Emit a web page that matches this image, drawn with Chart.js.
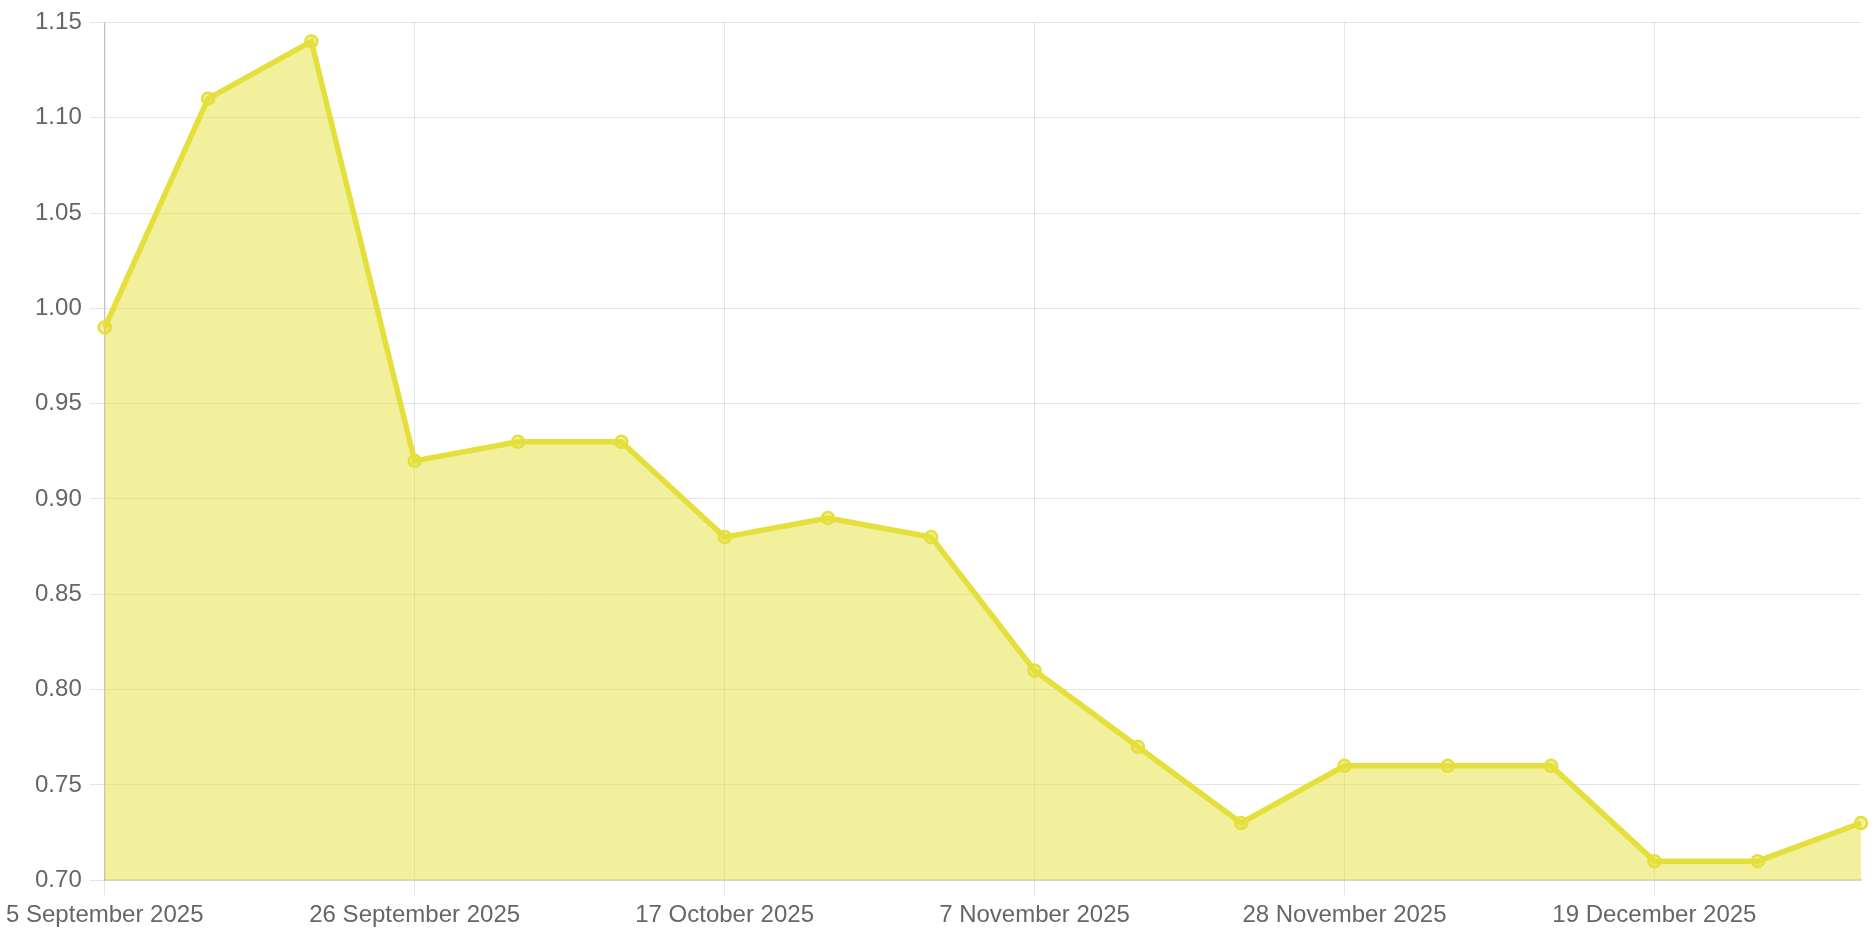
<!DOCTYPE html>
<html>
<head>
<meta charset="utf-8">
<script src="https://cdn.jsdelivr.net/npm/chart.js@4/dist/chart.umd.min.js"></script>
<style>
html,body{margin:0;padding:0;background:#fff;}
#wrap{width:1872px;height:936px;}
</style>
</head>
<body>
<div id="wrap"><canvas id="c" width="1872" height="936"></canvas></div>
<script>
const categories = [
  "5 September 2025","12 September 2025","19 September 2025","26 September 2025",
  "3 October 2025","10 October 2025","17 October 2025","24 October 2025",
  "31 October 2025","7 November 2025","14 November 2025","21 November 2025",
  "28 November 2025","5 December 2025","12 December 2025","19 December 2025",
  "26 December 2025","2 January 2026"
];
const values = [0.99,1.11,1.14,0.92,0.93,0.93,0.88,0.89,0.88,0.81,0.77,0.73,0.76,0.76,0.76,0.71,0.71,0.73];
const yMin = 0.70, yMax = 1.15, yStep = 0.05;

const lineColor = 'rgb(229,223,60)';
const fillColor = 'rgba(229,223,60,0.5)';
const fontFamily = 'Liberation Sans, Arial, Helvetica, sans-serif';

new Chart(document.getElementById('c'), {
  type: 'line',
  data: {
    labels: categories,
    datasets: [{
      data: values,
      borderColor: lineColor,
      backgroundColor: fillColor,
      fill: 'start',
      borderWidth: 5.5,
      tension: 0,
      pointRadius: 6,
      pointBorderWidth: 2.5,
      pointBackgroundColor: 'rgba(229,223,60,0.5)',
      pointBorderColor: lineColor
    }]
  },
  options: {
    responsive: false,
    animation: false,
    devicePixelRatio: 1,
    layout: { padding: { top: 5, right: 11, left: 8, bottom: 0 } },
    plugins: { legend: { display: false }, tooltip: { enabled: false } },
    scales: {
      x: {
        offset: false,
        grid: { color: 'rgba(0,0,0,0.1)', tickLength: 15, lineWidth: 1 },
        border: { color: 'rgba(0,0,0,0.15)', width: 1.5 },
        ticks: {
          color: '#666', font: { size: 24, family: fontFamily },
          maxRotation: 0, autoSkip: true, maxTicksLimit: 6, padding: 6
        }
      },
      y: {
        min: yMin, max: yMax,
        grid: { color: 'rgba(0,0,0,0.1)', tickLength: 15, lineWidth: 1 },
        border: { color: 'rgba(0,0,0,0.15)', width: 1.5 },
        ticks: {
          stepSize: yStep,
          color: '#666', font: { size: 24, family: fontFamily },
          padding: 8,
          callback: v => Number(v).toFixed(2)
        }
      }
    }
  }
});
</script>
</body>
</html>
